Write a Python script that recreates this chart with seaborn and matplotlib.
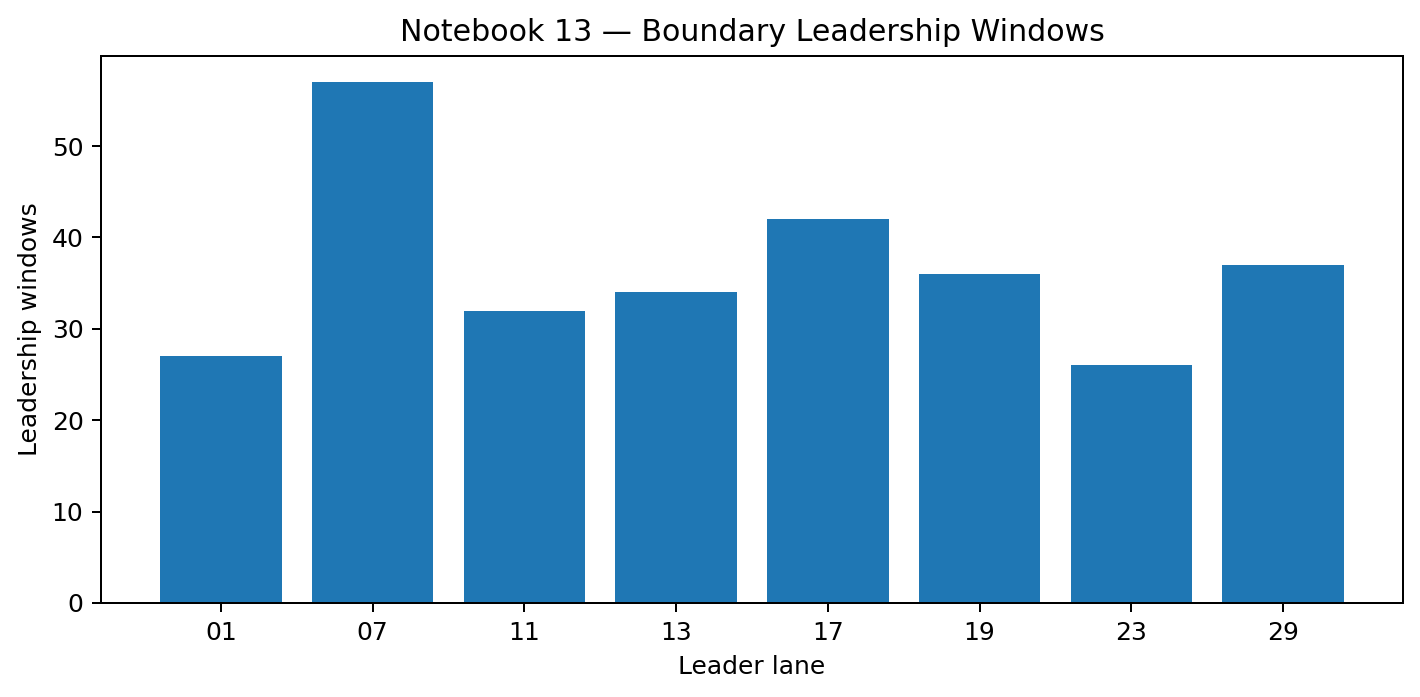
import matplotlib
matplotlib.use("Agg")
import matplotlib.pyplot as plt
import seaborn as sns
import pandas as pd

# Data
lanes = ["01", "07", "11", "13", "17", "19", "23", "29"]
windows = [27, 57, 32, 34, 42, 36, 26, 37]

df = pd.DataFrame({"lane": lanes, "windows": windows})

DPI = 180
fig = plt.figure(figsize=(1420 / DPI, 697 / DPI), dpi=DPI)
ax = fig.add_axes([101 / 1420, 94 / 697, (1403 - 101) / 1420, (603 - 56) / 697])
sns.barplot(data=df, x="lane", y="windows", color="#1f77b4", saturation=1,
            width=0.8, ax=ax)

# match matplotlib's default bar margins
span = (len(lanes) - 1) + 0.8
ax.set_xlim(-0.4 - 0.05 * span, len(lanes) - 1 + 0.4 + 0.05 * span)
ax.set_ylim(0, max(windows) * 1.05)

ax.set_title("Notebook 13 \u2014 Boundary Leadership Windows")
ax.set_xlabel("Leader lane")
ax.set_ylabel("Leadership windows")

plt.savefig("out.png", dpi=DPI)
plt.close()
